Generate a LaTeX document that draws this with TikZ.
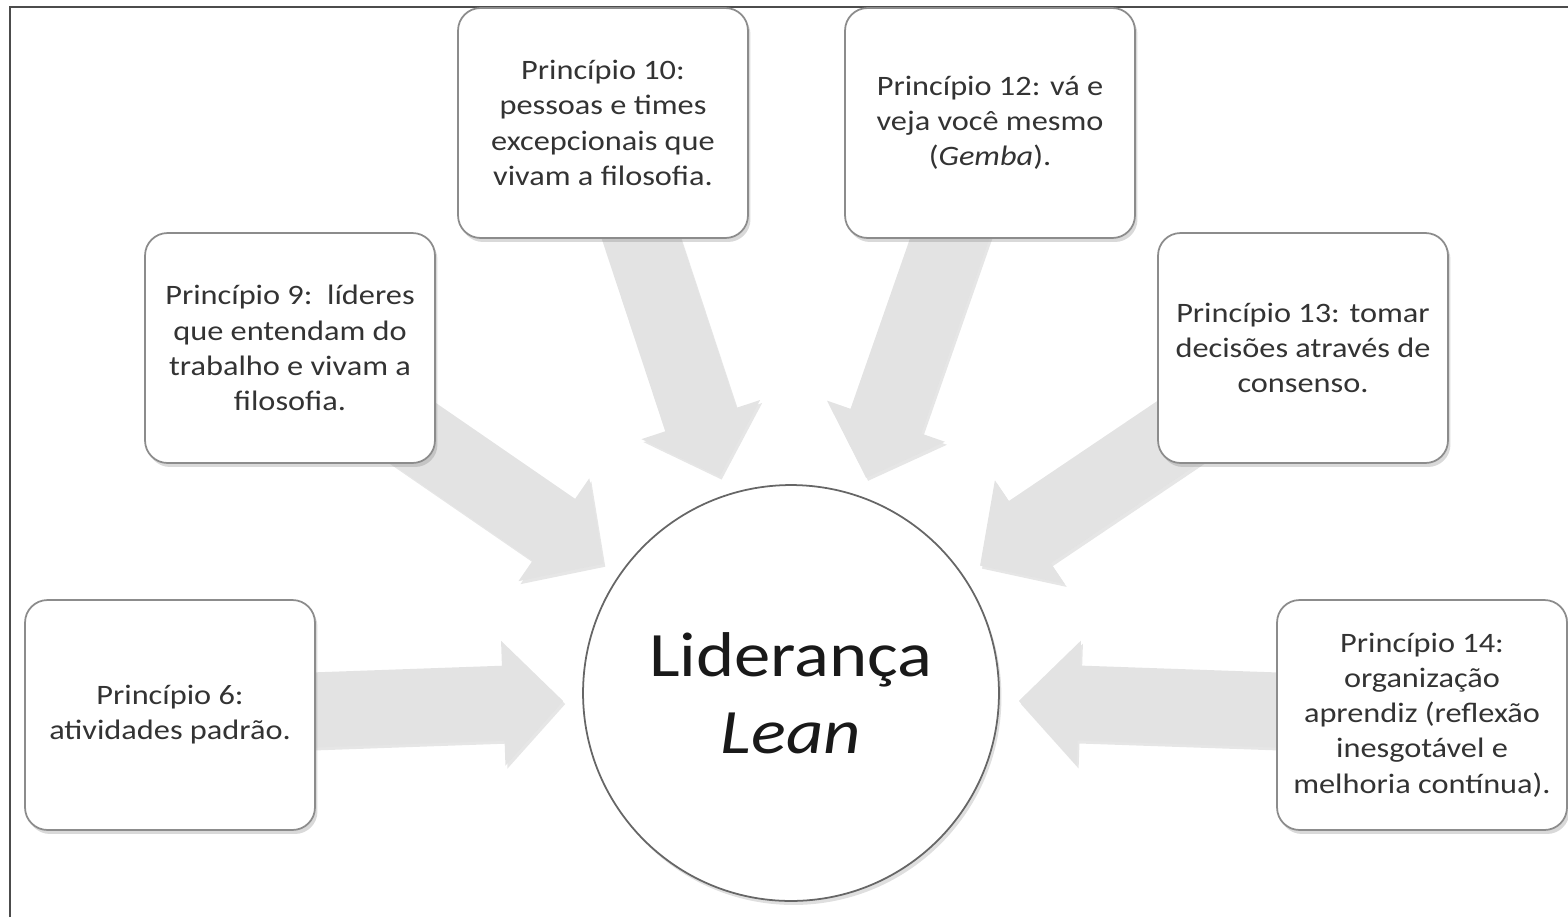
\documentclass[tikz,border=0pt]{standalone}
\usepackage{fontspec}
\setmainfont{Carlito}[FakeStretch=1.15]
\usetikzlibrary{calc,shadows,backgrounds}

\tikzset{
  principio/.style={draw=black!45, line width=1pt, rounded corners=0.45cm, fill=white,
    minimum width=5.8cm, minimum height=4.6cm, align=center, text=black!80,
    font=\fontsize{16}{20}\selectfont,
    drop shadow={opacity=0.3, shadow xshift=0.05cm, shadow yshift=-0.08cm}},
  lideranca/.style={circle, draw=black!60, line width=1pt, fill=white, minimum size=8.32cm,
    align=center, text=black!90, font=\fontsize{36}{44}\selectfont,
    drop shadow={opacity=0.25, shadow xshift=0.05cm, shadow yshift=-0.08cm}},
  fatarrow/.style={fill=black!11,
    drop shadow={opacity=0.2, shadow xshift=0.04cm, shadow yshift=-0.06cm}}
}

% block arrow from a box towards the centre node
\newcommand{\leanarrow}[2]{%
  \coordinate (tip) at ($(#2.center)!4.56cm!(#1.center)$);
  \coordinate (hb) at ($(tip)!1.2cm!(#1.center)$);
  \path[fatarrow] ($(#1.center)!0.75cm!90:(tip)$) -- ($(hb)!0.75cm!90:(tip)$) -- ($(hb)!1.25cm!90:(tip)$) -- (tip)
    -- ($(hb)!1.25cm!-90:(tip)$) -- ($(hb)!0.75cm!-90:(tip)$) -- ($(#1.center)!0.75cm!-90:(tip)$) -- cycle;}

\begin{document}
\begin{tikzpicture}[x=0.02cm, y=-0.02cm]
  \useasboundingbox (0,0) rectangle (1568,917);
  \draw[black!70, line width=1.2pt] (10,917) -- (10,7) -- (1568,7);

  \node[lideranca] (lider) at (791,693) {Liderança\\\textit{Lean}};
  \node[principio] (p6) at (170,715) {Princípio 6:\\atividades padrão.};
  \node[principio] (p9) at (290,348) {Princípio 9:\ \ líderes\\que entendam do\\trabalho e vivam a\\filosofia.};
  \node[principio] (p10) at (603,123) {Princípio 10:\\pessoas e times\\excepcionais que\\vivam a filosofia.};
  \node[principio] (p12) at (990,123) {Princípio 12: vá e\\veja você mesmo\\(\textit{Gemba}).};
  \node[principio] (p13) at (1303,348) {Princípio 13: tomar\\decisões através de\\consenso.};
  \node[principio] (p14) at (1422,715) {Princípio 14:\\organização\\aprendiz (reflexão\\inesgotável e\\melhoria contínua).};

  \begin{pgfonlayer}{background}
    \leanarrow{p6}{lider} \leanarrow{p9}{lider} \leanarrow{p10}{lider}
    \leanarrow{p12}{lider} \leanarrow{p13}{lider} \leanarrow{p14}{lider}
  \end{pgfonlayer}
\end{tikzpicture}
\end{document}
